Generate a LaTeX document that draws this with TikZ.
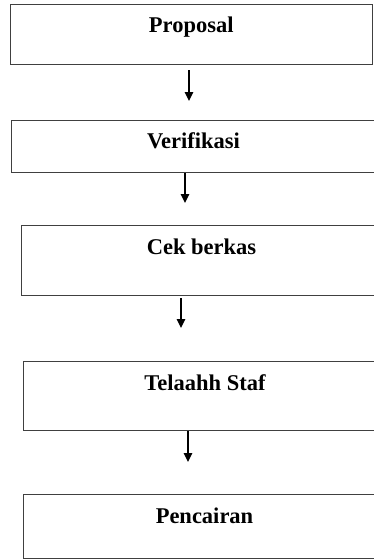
\documentclass[tikz,border=0pt]{standalone}
\usepackage{fontspec}
\setmainfont{Liberation Serif}
\usetikzlibrary{arrows.meta}
\tikzset{
  box/.style={draw=black!75, line width=1pt, rectangle, inner xsep=0pt, inner ysep=0pt,
    anchor=north west, font=\fontsize{22.5}{27}\selectfont\bfseries, text=black},
  arr/.style={line width=1.4pt, -{Triangle[length=9pt,width=8.5pt]}}
}
\begin{document}
\begin{tikzpicture}[x=1pt,y=-1pt]
\useasboundingbox (0,0) rectangle (374,560);
\clip (0,0) rectangle (374,560);
\node[box, minimum width=362.5pt, text height=28.5pt, text depth=32pt] (b1) at (9.5,3.5) {Proposal};
\node[box, minimum width=364pt, text height=28pt, text depth=24pt] (b2) at (11,120) {Verifikasi};
\node[box, minimum width=360pt, text height=29pt, text depth=41pt] (b3) at (21,225) {Cek berkas};
\node[box, minimum width=363pt, text height=29pt, text depth=40pt] (b4) at (23,361) {Telaahh Staf};
\node[box, minimum width=362pt, text height=29pt, text depth=35pt] (b5) at (23,494) {Pencairan};
\coordinate (e1) at (189,101);
\coordinate (e2) at (185,203);
\coordinate (e3) at (181,328);
\coordinate (e4) at (188,462);
\draw[arr, shorten <=5pt] (b1.south -| e1) -- (e1);
\draw[arr] (b2.south -| e2) -- (e2);
\draw[arr, shorten <=2pt] (b3.south -| e3) -- (e3);
\draw[arr] (b4.south -| e4) -- (e4);
\end{tikzpicture}
\end{document}
